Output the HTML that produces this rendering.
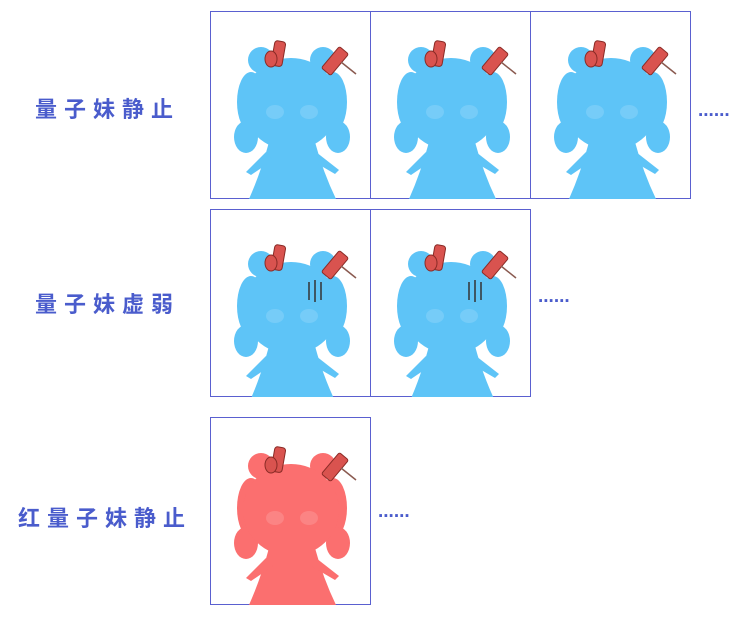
<!DOCTYPE html>
<html><head><meta charset="utf-8">
<style>
html,body{margin:0;padding:0;background:#fff;width:737px;height:623px;overflow:hidden;position:relative}
.lbl{position:absolute;font-family:"Liberation Sans","Noto Sans CJK SC",sans-serif;font-size:22px;font-weight:bold;color:#4a5ccc;letter-spacing:7px;white-space:nowrap}
.box{position:absolute;border:1px solid #5a60d0;box-sizing:border-box;width:161px;height:188px;background:#fff}
.box svg{position:absolute;left:0;top:0}
.dots{position:absolute;font-family:"Liberation Sans",sans-serif;font-size:19px;font-weight:bold;color:#4a5ccc;letter-spacing:0px}
</style></head><body>
<svg width="0" height="0" style="position:absolute">
<defs>
<symbol id="girl" viewBox="0 0 160 187">
<g fill="currentColor">
<circle cx="50" cy="48" r="13"/>
<circle cx="112" cy="48" r="13"/>
<ellipse cx="40" cy="90" rx="14" ry="30"/>
<ellipse cx="122" cy="90" rx="14" ry="30"/>
<ellipse cx="35" cy="125" rx="12" ry="16"/>
<ellipse cx="127" cy="125" rx="12" ry="16"/>
<ellipse cx="80" cy="92" rx="48" ry="46"/>
<path d="M58 130 Q50 160 38 187 L125 187 Q112 160 104 130 Z"/>
<path d="M55 140 L35 160 L40 163 L62 148 Z"/>
<path d="M105 140 L128 158 L124 162 L100 148 Z"/>
</g>
<ellipse cx="64" cy="100" rx="9" ry="7" fill="#ffffff" opacity="0.15"/>
<ellipse cx="98" cy="100" rx="9" ry="7" fill="#ffffff" opacity="0.15"/>
<g fill="#d9534f" stroke="#8a2b26" stroke-width="1">
<rect x="62" y="29" width="11" height="25" rx="3" transform="rotate(10 67 41)"/>
<ellipse cx="60" cy="47" rx="6" ry="8"/>
<rect x="118" y="35" width="12" height="28" rx="2" transform="rotate(40 124 49)"/>
</g>
<line x1="130" y1="50" x2="145" y2="62" stroke="#8a5a50" stroke-width="1.5"/>
</symbol>
</defs>
</svg>

<div class="lbl" style="left:35px;top:92px">量子妹静止</div>
<div class="lbl" style="left:35px;top:287px">量子妹虚弱</div>
<div class="lbl" style="left:18px;top:501px">红量子妹静止</div>

<div class="box" style="left:210px;top:11px"><svg width="160" height="187" style="color:#5ec4f7"><use href="#girl"/></svg></div>
<div class="box" style="left:370px;top:11px"><svg width="160" height="187" style="color:#5ec4f7"><use href="#girl"/></svg></div>
<div class="box" style="left:530px;top:11px"><svg width="160" height="187" style="color:#5ec4f7"><use href="#girl"/></svg></div>
<div class="dots" style="left:698px;top:100px">......</div>

<div class="box" style="left:210px;top:209px"><svg width="160" height="187" style="color:#5ec4f7"><g transform="translate(0,6)"><use href="#girl"/></g><g stroke="#333" stroke-width="1.5"><line x1="98" y1="72" x2="98" y2="90"/><line x1="104" y1="70" x2="104" y2="92"/><line x1="110" y1="72" x2="110" y2="90"/></g></svg></div>
<div class="box" style="left:370px;top:209px"><svg width="160" height="187" style="color:#5ec4f7"><g transform="translate(0,6)"><use href="#girl"/></g><g stroke="#333" stroke-width="1.5"><line x1="98" y1="72" x2="98" y2="90"/><line x1="104" y1="70" x2="104" y2="92"/><line x1="110" y1="72" x2="110" y2="90"/></g></svg></div>
<div class="dots" style="left:538px;top:286px">......</div>

<div class="box" style="left:210px;top:417px"><svg width="160" height="187" style="color:#fb6f6f"><use href="#girl"/></svg></div>
<div class="dots" style="left:378px;top:501px">......</div>
</body></html>
